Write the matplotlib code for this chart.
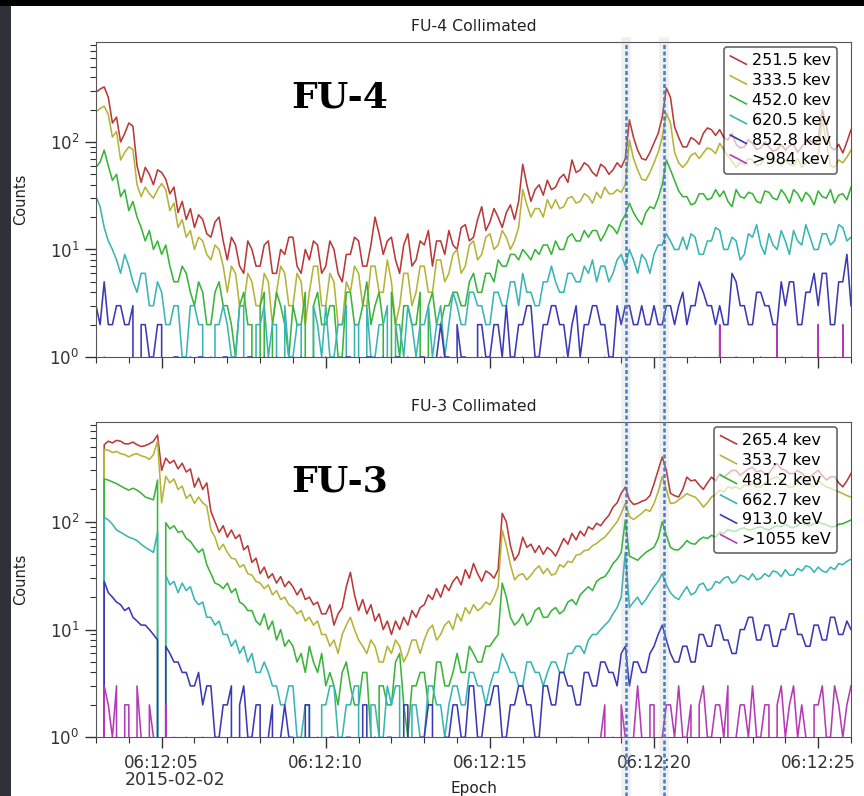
import numpy as np
import matplotlib.pyplot as plt
import matplotlib.transforms as mtransforms
from matplotlib.lines import Line2D
from matplotlib.patches import Rectangle
from matplotlib.legend_handler import HandlerBase

# seconds after 06:12:00 (2015-02-02), one value every 0.125 s
t_start = 3.0
t_step = 0.125

# FU-4 collimated (one row per second)
fu4_labels = ['251.5 kev', '333.5 kev', '452.0 kev', '620.5 kev', '852.8 kev', '>984 kev']
fu4_ch1 = [290, 310, 325, 260, 150, 170, 100, 120,
           150, 140, 60, 42, 58, 50, 40, 55,
           52, 45, 33, 38, 22, 28, 19, 24,
           16, 21, 19, 14, 13, 18, 20, 12,
           8, 13, 11, 7, 6, 12, 10, 7,
           7, 11, 12, 6, 6, 10, 9, 13,
           13, 7, 6, 10, 8, 12, 11, 6,
           7, 12, 10, 6, 5, 9, 9, 13,
           12, 7, 7, 11, 20, 14, 9, 12,
           13, 8, 6, 11, 14, 7, 8, 12,
           11, 15, 7, 12, 12, 9, 15, 11,
           10, 16, 17, 12, 13, 19, 25, 15,
           18, 24, 20, 16, 22, 26, 19, 28,
           62, 40, 28, 36, 40, 32, 44, 36,
           38, 46, 50, 42, 68, 52, 55, 64,
           60, 52, 48, 62, 58, 50, 55, 64,
           58, 70, 160, 110, 84, 70, 68, 80,
           98, 120, 170, 317, 260, 138, 110, 90,
           90, 110, 104, 95, 120, 135, 130, 115,
           130, 110, 104, 120, 95, 88, 90, 105,
           97, 85, 88, 100, 90, 82, 85, 95,
           84, 92, 95, 80, 90, 100, 104, 95,
           104, 200, 140, 90, 84, 95, 79, 100,
           130]
fu4_ch2 = [190, 205, 215, 180, 111, 125, 68, 80,
           90, 85, 40, 31, 38, 33, 30, 36,
           41, 36, 23, 27, 16, 19, 13, 15,
           10, 13, 12, 9, 8, 11, 10, 7,
           4, 7, 6, 3, 3, 6, 5, 3,
           3, 6, 5, 2, 4, 7, 6, 3,
           3, 6, 5, 2, 4, 7, 7, 3,
           3, 6, 5, 2, 2, 5, 4, 7,
           6, 3, 3, 7, 7, 4, 4, 8,
           5, 2, 3, 6, 6, 3, 4, 7,
           7, 4, 4, 8, 8, 5, 6, 9,
           10, 6, 7, 11, 12, 8, 9, 13,
           14, 10, 11, 15, 13, 10, 12, 16,
           36, 26, 20, 24, 24, 20, 29, 24,
           29, 24, 25, 30, 31, 27, 28, 33,
           31, 27, 34, 30, 38, 33, 33, 36,
           34, 40, 104, 70, 55, 45, 44, 52,
           64, 80, 110, 185, 150, 80, 64, 58,
           64, 75, 79, 70, 79, 88, 85, 78,
           97, 85, 74, 66, 58, 64, 62, 70,
           68, 60, 62, 72, 74, 65, 66, 60,
           68, 62, 60, 70, 58, 64, 66, 72,
           74, 160, 100, 60, 58, 68, 64, 72,
           84]
fu4_ch3 = [58, 65, 84, 60, 44, 50, 31, 36,
           23, 28, 20, 16, 12, 15, 10, 12,
           9, 11, 7, 5, 5, 7, 6, 4,
           3, 5, 4, 2, 2, 4, 5, 3,
           3, 2, 1, 3, 4, 2, 2, 0,
           3, 4, 0, 2, 4, 3, 2, 1,
           3, 2, 2, 4, 0, 3, 4, 2,
           2, 3, 3, 1, 1, 4, 4, 2,
           2, 3, 5, 2, 3, 4, 2, 0,
           4, 2, 1, 3, 3, 2, 2, 4,
           0, 3, 4, 2, 2, 3, 3, 4,
           4, 3, 3, 5, 6, 4, 4, 6,
           6, 5, 8, 7, 7, 9, 9, 8,
           10, 9, 8, 10, 9, 11, 11, 9,
           12, 10, 10, 13, 14, 12, 12, 15,
           13, 15, 15, 12, 14, 17, 16, 14,
           18, 21, 27, 22, 19, 17, 22, 25,
           24, 30, 40, 68, 55, 44, 35, 31,
           31, 26, 27, 33, 33, 29, 30, 36,
           31, 35, 28, 25, 36, 31, 30, 34,
           33, 28, 27, 35, 34, 30, 29, 36,
           32, 27, 36, 33, 28, 34, 31, 26,
           35, 31, 30, 36, 27, 32, 33, 29,
           38]
fu4_ch4 = [31, 25, 16, 12, 10, 8, 6, 9,
           7, 5, 4, 6, 6, 3, 3, 5,
           4, 2, 2, 3, 3, 1, 1, 3,
           3, 2, 2, 0, 0, 2, 2, 3,
           2, 1, 1, 3, 3, 0, 0, 2,
           2, 3, 1, 2, 2, 0, 3, 1,
           1, 2, 2, 0, 0, 3, 2, 1,
           3, 1, 1, 2, 2, 3, 0, 2,
           2, 0, 3, 1, 1, 2, 2, 3,
           0, 2, 2, 1, 3, 2, 1, 2,
           2, 3, 1, 2, 3, 1, 2, 4,
           3, 2, 2, 4, 4, 3, 3, 2,
           2, 4, 4, 3, 3, 5, 5, 3,
           6, 4, 4, 3, 3, 5, 5, 7,
           5, 4, 4, 6, 6, 5, 5, 7,
           6, 8, 5, 7, 7, 5, 6, 8,
           9, 7, 10, 8, 6, 9, 8, 6,
           9, 11, 11, 14, 12, 10, 10, 13,
           10, 14, 13, 9, 9, 12, 12, 16,
           15, 10, 10, 13, 12, 8, 9, 14,
           13, 17, 11, 9, 14, 11, 10, 15,
           12, 9, 15, 12, 11, 17, 13, 10,
           10, 14, 14, 11, 12, 17, 16, 12,
           13]
fu4_ch5 = [3, 2, 5, 2, 2, 3, 3, 2,
           2, 3, 0, 2, 2, 1, 1, 2,
           2, 0, 0, 1, 1, 0, 0, 1,
           0, 1, 1, 0, 0, 0, 0, 1,
           1, 0, 0, 0, 0, 1, 1, 0,
           0, 1, 0, 0, 1, 0, 0, 0,
           0, 0, 1, 0, 0, 1, 0, 0,
           1, 0, 0, 0, 0, 1, 1, 0,
           0, 0, 1, 1, 0, 0, 1, 0,
           0, 1, 1, 0, 1, 0, 0, 1,
           1, 0, 0, 1, 2, 1, 1, 0,
           2, 1, 1, 0, 0, 2, 2, 1,
           1, 2, 2, 1, 3, 1, 1, 2,
           2, 3, 3, 1, 1, 2, 2, 3,
           3, 2, 2, 1, 2, 3, 1, 2,
           2, 3, 3, 2, 2, 1, 1, 3,
           2, 3, 3, 2, 2, 3, 2, 2,
           3, 2, 2, 3, 3, 2, 3, 4,
           2, 3, 3, 5, 4, 3, 3, 2,
           3, 2, 2, 6, 5, 3, 3, 2,
           2, 4, 4, 3, 3, 2, 2, 5,
           3, 5, 5, 2, 2, 4, 4, 6,
           3, 6, 6, 2, 2, 5, 5, 9,
           3]
fu4_ch6 = [0, 0, 1, 0, 0, 0, 0, 0,
           0, 0, 0, 0, 0, 0, 1, 0,
           0, 0, 0, 0, 0, 0, 0, 0,
           0, 0, 0, 0, 1, 0, 0, 0,
           0, 0, 0, 0, 0, 0, 0, 0,
           0, 0, 1, 0, 0, 0, 0, 0,
           0, 0, 0, 0, 0, 0, 0, 0,
           0, 0, 0, 0, 1, 0, 0, 0,
           0, 0, 0, 0, 0, 0, 0, 0,
           1, 0, 0, 0, 0, 0, 0, 0,
           0, 0, 0, 0, 1, 0, 0, 0,
           0, 0, 0, 0, 0, 0, 1, 0,
           0, 0, 0, 0, 0, 0, 0, 0,
           1, 0, 0, 0, 0, 0, 0, 0,
           0, 0, 1, 0, 0, 0, 0, 0,
           0, 0, 0, 0, 1, 0, 0, 0,
           0, 0, 1, 0, 0, 0, 0, 0,
           0, 0, 0, 0, 1, 0, 0, 0,
           0, 0, 1, 0, 0, 0, 0, 0,
           2, 0, 0, 0, 1, 0, 0, 0,
           0, 0, 1, 0, 0, 0, 2, 0,
           0, 0, 0, 0, 1, 0, 0, 0,
           2, 0, 0, 0, 1, 0, 2, 0,
           0]

# FU-3 collimated (one row per second)
fu3_labels = ['265.4 kev', '353.7 kev', '481.2 kev', '662.7 kev', '913.0 keV', '>1055 keV']
fu3_ch1 = [640, 0, 520, 560, 540, 570, 560, 530,
           530, 550, 520, 500, 510, 530, 560, 640,
           300, 390, 350, 372, 310, 350, 290, 310,
           210, 255, 200, 230, 125, 100, 80, 92,
           72, 84, 70, 76, 55, 60, 42, 46,
           33, 38, 30, 33, 27, 31, 25, 28,
           25, 21, 24, 19, 20, 17, 18, 14,
           14, 17, 11, 14, 16, 25, 34, 21,
           15, 19, 14, 17, 12, 14, 10, 12,
           9, 12, 10, 13, 11, 15, 13, 16,
           17, 21, 19, 24, 20, 26, 23, 28,
           31, 26, 36, 30, 41, 33, 28, 35,
           33, 30, 36, 120, 100, 60, 44, 50,
           72, 58, 62, 52, 60, 50, 58, 54,
           48, 58, 70, 62, 78, 68, 82, 74,
           90, 85, 97, 92, 104, 115, 137, 150,
           184, 210, 160, 145, 148, 155, 160, 175,
           226, 300, 400, 300, 184, 175, 170, 200,
           260, 240, 245, 220, 200, 230, 260, 240,
           280, 260, 280, 300, 300, 270, 290, 310,
           320, 290, 300, 280, 280, 320, 348, 310,
           300, 280, 281, 300, 281, 262, 262, 280,
           300, 270, 244, 262, 262, 230, 211, 240,
           281]
fu3_ch2 = [615, 0, 470, 462, 440, 450, 430, 420,
           401, 420, 430, 410, 400, 380, 420, 560,
           150, 265, 230, 250, 200, 215, 165, 180,
           148, 170, 150, 140, 84, 72, 55, 62,
           52, 46, 45, 38, 40, 33, 32, 28,
           27, 24, 26, 21, 23, 19, 20, 17,
           16, 14, 15, 12, 13, 11, 12, 9,
           9, 7, 8, 6, 9, 11, 13, 10,
           8, 7, 6, 8, 7, 5, 5, 7,
           6, 8, 7, 5, 6, 8, 8, 6,
           8, 10, 11, 8, 9, 11, 12, 10,
           14, 12, 16, 14, 17, 15, 16, 18,
           17, 20, 25, 84, 60, 40, 29, 32,
           33, 29, 32, 36, 39, 33, 37, 32,
           33, 40, 38, 43, 42, 49, 50, 54,
           55, 60, 63, 68, 72, 80, 90, 100,
           120, 148, 112, 105, 112, 120, 130, 125,
           148, 190, 262, 200, 148, 150, 160, 170,
           183, 175, 170, 155, 137, 150, 170, 180,
           197, 190, 211, 205, 211, 200, 220, 215,
           227, 210, 211, 230, 244, 255, 262, 240,
           220, 210, 211, 240, 262, 240, 220, 210,
           244, 225, 211, 205, 197, 190, 183, 175,
           170]
fu3_ch3 = [380, 0, 250, 244, 235, 226, 215, 205,
           197, 205, 197, 185, 170, 165, 160, 244,
           0, 98, 86, 92, 80, 82, 70, 66,
           58, 52, 56, 40, 33, 27, 26, 24,
           27, 22, 24, 18, 17, 15, 15, 12,
           11, 14, 10, 12, 8, 10, 7, 8,
           7, 5, 6, 4, 7, 5, 4, 6,
           3, 4, 3, 2, 4, 5, 3, 2,
           2, 4, 4, 1, 0, 3, 3, 2,
           2, 5, 6, 2, 1, 3, 3, 4,
           4, 2, 2, 5, 5, 3, 3, 4,
           6, 4, 4, 7, 6, 5, 5, 7,
           7, 8, 9, 27, 20, 13, 11, 12,
           14, 11, 12, 15, 16, 13, 13, 15,
           16, 14, 15, 18, 19, 17, 21, 23,
           25, 23, 28, 30, 31, 35, 41, 45,
           52, 104, 48, 46, 44, 48, 52, 55,
           58, 70, 100, 75, 58, 55, 55, 60,
           67, 63, 62, 68, 72, 70, 75, 72,
           80, 78, 85, 82, 82, 86, 88, 84,
           85, 88, 90, 86, 84, 89, 92, 90,
           95, 90, 88, 93, 98, 94, 92, 96,
           100, 96, 94, 90, 90, 95, 96, 100,
           104]
fu3_ch4 = [183, 0, 110, 104, 95, 84, 80, 76,
           72, 70, 67, 62, 58, 55, 52, 80,
           0, 32, 26, 28, 22, 27, 23, 25,
           19, 17, 18, 13, 13, 11, 12, 9,
           9, 7, 8, 6, 7, 5, 6, 4,
           4, 5, 4, 3, 3, 2, 2, 3,
           3, 1, 1, 2, 2, 0, 0, 2,
           2, 3, 3, 1, 1, 2, 2, 3,
           3, 0, 0, 2, 2, 1, 1, 3,
           2, 3, 3, 0, 0, 2, 2, 1,
           1, 3, 3, 2, 2, 1, 2, 3,
           3, 2, 2, 4, 4, 3, 3, 2,
           3, 4, 4, 6, 5, 4, 4, 3,
           3, 5, 5, 4, 4, 3, 4, 5,
           5, 4, 4, 6, 6, 7, 7, 6,
           8, 9, 9, 10, 11, 12, 14, 16,
           20, 52, 16, 18, 20, 17, 19, 22,
           25, 28, 33, 26, 22, 20, 19, 22,
           25, 21, 22, 26, 27, 23, 24, 28,
           27, 30, 31, 27, 28, 32, 31, 29,
           33, 29, 30, 33, 31, 35, 34, 31,
           36, 32, 32, 37, 35, 39, 38, 34,
           38, 35, 34, 38, 36, 41, 40, 43,
           45]
fu3_ch5 = [38, 0, 28, 22, 20, 18, 17, 15,
           16, 13, 12, 11, 11, 10, 9, 8,
           0, 7, 6, 5, 5, 4, 4, 3,
           3, 4, 2, 3, 3, 1, 1, 2,
           2, 3, 0, 2, 3, 1, 1, 2,
           2, 0, 1, 2, 0, 1, 2, 1,
           1, 0, 0, 2, 2, 0, 1, 0,
           0, 1, 1, 0, 0, 1, 1, 0,
           0, 2, 2, 0, 1, 0, 0, 1,
           1, 0, 0, 2, 2, 0, 0, 1,
           1, 2, 2, 0, 0, 1, 1, 2,
           2, 1, 1, 3, 3, 1, 1, 2,
           2, 3, 3, 1, 1, 2, 2, 3,
           3, 2, 2, 1, 1, 3, 3, 2,
           2, 4, 4, 3, 3, 2, 2, 4,
           4, 3, 3, 5, 5, 4, 4, 3,
           6, 7, 3, 5, 5, 4, 4, 6,
           7, 9, 11, 8, 6, 5, 5, 7,
           7, 5, 5, 9, 9, 7, 7, 11,
           11, 8, 8, 6, 6, 10, 10, 13,
           13, 8, 8, 11, 11, 7, 7, 10,
           10, 14, 14, 9, 9, 7, 7, 11,
           11, 8, 8, 13, 13, 9, 9, 12,
           10]
fu3_ch6 = [6, 0, 3, 2, 1, 3, 0, 2,
           2, 0, 3, 1, 0, 2, 1, 0,
           0, 2, 0, 1, 0, 0, 1, 0,
           0, 0, 1, 0, 0, 0, 0, 0,
           0, 1, 0, 0, 0, 0, 0, 0,
           0, 0, 0, 0, 0, 0, 1, 0,
           0, 0, 0, 0, 0, 0, 0, 0,
           1, 0, 0, 0, 0, 0, 0, 0,
           0, 0, 0, 0, 1, 0, 0, 0,
           0, 0, 0, 0, 0, 0, 0, 0,
           0, 1, 0, 0, 0, 0, 0, 0,
           0, 0, 0, 0, 0, 0, 1, 0,
           0, 0, 0, 0, 0, 0, 0, 0,
           0, 0, 1, 0, 0, 0, 0, 0,
           0, 0, 0, 0, 1, 0, 0, 0,
           1, 0, 0, 1, 2, 0, 1, 0,
           2, 1, 0, 1, 3, 1, 0, 2,
           2, 0, 1, 2, 2, 1, 3, 1,
           1, 2, 0, 2, 3, 1, 1, 2,
           2, 1, 3, 0, 1, 2, 2, 1,
           3, 1, 1, 2, 2, 0, 2, 3,
           1, 2, 3, 1, 2, 1, 0, 2,
           2, 3, 1, 1, 3, 2, 1, 2,
           3]

colors = ['#b83a3a', '#b5b338', '#3ab43a', '#3ab5b5', '#3a3ab5', '#b53ab5']

event_times = [19.16, 20.3]
tick_secs = [5, 10, 15, 20, 25]
tick_text = ['06:12:05', '06:12:10', '06:12:15', '06:12:20', '06:12:25']
date_text = '2015-02-02'


class SlashHandler(HandlerBase):
    # short slanted legend sample
    def create_artists(self, legend, orig_handle, xdescent, ydescent,
                       width, height, fontsize, trans):
        ln = Line2D([-xdescent, -xdescent + width],
                    [-ydescent + height * 0.85, -ydescent + height * 0.1],
                    color=orig_handle.get_color(), lw=1.2)
        ln.set_transform(trans)
        return [ln]


def draw_panel(ax, series, labels, title, tag, tag_y):
    for vals, lab, c in zip(series, labels, colors):
        t = t_start + t_step * np.arange(len(vals))
        ax.plot(t, np.array(vals, dtype=float), color=c, lw=1.15, label=lab)
    ax.set_yscale('log', nonpositive='clip')
    ax.set_ylim(1, 850)
    ax.set_xlim(3.0, 26.0)
    ax.set_xticks(tick_secs)
    ax.set_xticks(np.arange(3, 27), minor=True)
    ax.tick_params(which='major', direction='out', length=8, width=1,
                   labelsize=12, colors='#333333', pad=4)
    ax.tick_params(which='minor', direction='out', length=4, width=0.8, colors='#333333')
    ax.tick_params(top=False, right=False)
    for s in ax.spines.values():
        s.set_color('#555555')
    ax.set_title(title, fontsize=11.3, color='#222222', pad=8)
    ax.set_ylabel('Counts', fontsize=10.5, color='#222222')
    ax.yaxis.set_label_coords(-0.09, 0.5)
    ax.text(0.323, tag_y, tag, transform=ax.transAxes, ha='center', va='center',
            fontsize=26, fontweight='bold', family='DejaVu Serif', color='black')
    leg = ax.legend(loc='upper right', bbox_to_anchor=(0.982, 0.984), borderaxespad=0,
                    fontsize=11.5, handlelength=1.0, handletextpad=0.35,
                    labelspacing=0.3, borderpad=0.4, framealpha=0.65,
                    edgecolor='black', handler_map={Line2D: SlashHandler()})
    leg.get_frame().set_linewidth(1.1)
    return leg


fig = plt.figure(figsize=(8.64, 7.96), dpi=100, facecolor='black')
fig.patches.append(Rectangle((11 / 864, 0), 1, 790 / 796, transform=fig.transFigure,
                             facecolor='white', edgecolor='none', zorder=-10))
fig.patches.append(Rectangle((0, 0), 11 / 864, 790 / 796, transform=fig.transFigure,
                             facecolor='#2e3238', edgecolor='none', zorder=-10))

ax4 = fig.add_axes([96 / 864, 1 - 357 / 796, 755 / 864, 315 / 796])
ax3 = fig.add_axes([96 / 864, 1 - 737.3 / 796, 755 / 864, 315.6 / 796])

draw_panel(ax4, [fu4_ch1, fu4_ch2, fu4_ch3, fu4_ch4, fu4_ch5, fu4_ch6],
           fu4_labels, 'FU-4 Collimated', 'FU-4', 0.825)
draw_panel(ax3, [fu3_ch1, fu3_ch2, fu3_ch3, fu3_ch4, fu3_ch5, fu3_ch6],
           fu3_labels, 'FU-3 Collimated', 'FU-3', 0.809)

ax4.set_xticklabels([])
ax3.set_xticklabels(tick_text)
ax3.set_xlabel('Epoch', fontsize=11, color='#222222')
ax3.xaxis.set_label_coords(0.5, -0.162)
ax3.xaxis.label.set_va('center')

# date under the first tick label, left aligned with it
fig.canvas.draw()
bb = ax3.get_xticklabels()[0].get_window_extent()
fig.text(bb.x0 / fig.bbox.width, 1 - 780 / 796, date_text, fontsize=12.5,
         color='#333333', ha='left', va='center')

# event markers through both panels
trans = mtransforms.blended_transform_factory(ax3.transData, fig.transFigure)
y_top = ax4.get_position().y1
for te in event_times:
    fig.add_artist(Line2D([te, te], [0, y_top], transform=trans, color='#9a9a9a',
                          lw=7, alpha=0.15, zorder=5))
    fig.add_artist(Line2D([te, te], [0, y_top], transform=trans, color='#3f7fcc',
                          lw=1.8, linestyle=(0, (1.6, 1.0)), zorder=6))

fig.savefig('out.png', dpi=100, facecolor=fig.get_facecolor())
